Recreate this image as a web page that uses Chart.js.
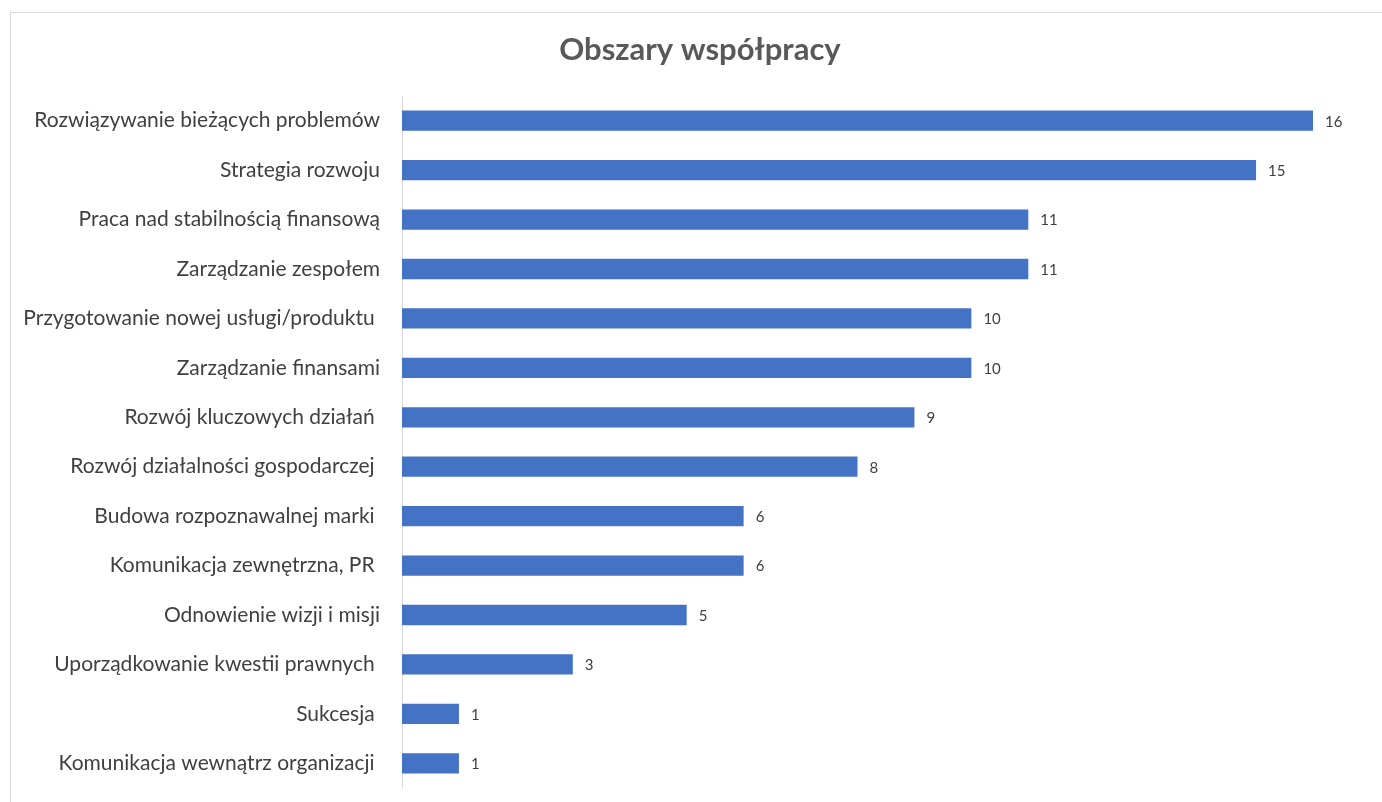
<!DOCTYPE html>
<html>
<head>
<meta charset="utf-8">
<script src="https://cdn.jsdelivr.net/npm/chart.js@4"></script>
<style>
  html, body { margin: 0; padding: 0; background: #fff; overflow: hidden; }
  #frame { position: absolute; left: 10px; top: 12px; width: 1400px; height: 820px;
           border-top: 1px solid #d9d9d9; border-left: 1px solid #d9d9d9; }
  #wrap { position: absolute; left: 0; top: 0; width: 1382px; height: 802px; }
</style>
</head>
<body>
<div id="frame"></div>
<div id="wrap"><canvas id="areas"></canvas></div>
<script>
// Categories, top to bottom
const categories = [
    'Rozwiązywanie bieżących problemów',
    'Strategia rozwoju',
    'Praca nad stabilnością finansową',
    'Zarządzanie zespołem',
    'Przygotowanie nowej usługi/produktu ',
    'Zarządzanie finansami',
    'Rozwój kluczowych działań ',
    'Rozwój działalności gospodarczej ',
    'Budowa rozpoznawalnej marki ',
    'Komunikacja zewnętrzna, PR ',
    'Odnowienie wizji i misji',
    'Uporządkowanie kwestii prawnych ',
    'Sukcesja ',
    'Komunikacja wewnątrz organizacji '
];

// Number of answers per category
const counts = [16, 15, 11, 11, 10, 10, 9, 8, 6, 6, 5, 3, 1, 1];

const titleText = 'Obszary współpracy';

// Title drawn over the whole picture width, and the value next to each bar end
const extras = {
    id: 'extras',
    afterDatasetsDraw(chart) {
        const ctx = chart.ctx;
        const meta = chart.getDatasetMeta(0);
        ctx.save();
        ctx.font = 'bold 31px Lato';
        ctx.fillStyle = '#595959';
        ctx.textAlign = 'center';
        ctx.textBaseline = 'middle';
        ctx.fillText(titleText, 700, 50);

        ctx.font = '15px Lato';
        ctx.fillStyle = '#404040';
        ctx.textAlign = 'left';
        meta.data.forEach(function (bar, i) {
            ctx.fillText(String(counts[i]), bar.x + 12, bar.y + 1);
        });
        ctx.restore();
    }
};

const ctx = document.getElementById('areas').getContext('2d');

new Chart(ctx, {
    type: 'bar',
    data: {
        labels: categories,
        datasets: [{
            data: counts,
            backgroundColor: '#4472C4',
            borderWidth: 0,
            barPercentage: 0.41,
            categoryPercentage: 1
        }]
    },
    plugins: [extras],
    options: {
        indexAxis: 'y',
        responsive: true,
        maintainAspectRatio: false,
        animation: false,
        layout: {
            padding: { left: 0, right: 69, top: 96, bottom: 14 }
        },
        plugins: {
            legend: { display: false },
            tooltip: { enabled: false },
            title: { display: false }
        },
        scales: {
            x: {
                display: false,
                min: 0,
                max: 16
            },
            y: {
                grid: { display: false },
                border: { display: true, color: '#d9d9d9', width: 1 },
                ticks: {
                    color: '#404040',
                    font: { family: 'Lato', size: 21 },
                    padding: 14
                },
                afterFit(scale) {
                    scale.width = 402; // axis line position
                    scale.paddingTop = 0;
                    scale.paddingBottom = 0;
                }
            }
        }
    }
});
</script>
</body>
</html>
